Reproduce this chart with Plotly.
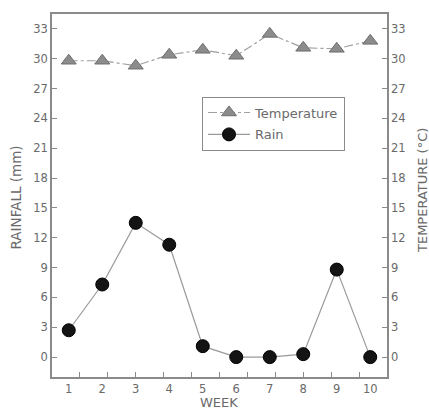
import plotly.graph_objects as go

weeks = [1, 2, 3, 4, 5, 6, 7, 8, 9, 10]
rain = [2.7, 7.3, 13.5, 11.3, 1.1, 0.0, 0.0, 0.3, 8.8, 0.0]
temperature = [29.8, 29.8, 29.3, 30.4, 30.9, 30.3, 32.5, 31.1, 31.0, 31.8]
y_ticks = [0, 3, 6, 9, 12, 15, 18, 21, 24, 27, 30, 33]

FONT = "DejaVu Sans, Arial, sans-serif"
AX = "#8a8a8a"
TXT = "#6a6a6a"

W, H = 429, 410
L, R, T, B = 52, 42, 12, 33
PW, PH = W - L - R, H - T - B


def px(xp):
    return (xp - L) / PW


def py(yp):
    return (H - B - yp) / PH


fig = go.Figure()
fig.add_trace(go.Scatter(
    x=weeks, y=temperature, name="Temperature", mode="lines+markers",
    legendgroup="t",
    line=dict(color="#a0a0a0", width=1.2, dash="dashdot"),
    marker=dict(symbol="triangle-up", size=13, color="#8c8c8c",
                line=dict(color="#6e6e6e", width=1)),
    yaxis="y2"))
fig.add_trace(go.Scatter(
    x=weeks, y=rain, name="Rain", mode="lines+markers",
    legendgroup="r",
    line=dict(color="#9a9a9a", width=1.2),
    marker=dict(symbol="circle", size=13, color="#141414",
                line=dict(color="#000000", width=1))))
# dummy trace carrying the bottom tick-mark axis
fig.add_trace(go.Scatter(x=[None], y=[None], xaxis="x2", showlegend=False,
                         hoverinfo="skip"))

fig.update_layout(
    width=W, height=H,
    margin=dict(l=L, r=R, t=T, b=B),
    paper_bgcolor="white", plot_bgcolor="white",
    font=dict(family=FONT, size=11.5, color=TXT),
    showlegend=True,
    legend=dict(x=px(202), y=py(95), xanchor="left", yanchor="top",
                bgcolor="white", bordercolor=AX, borderwidth=1,
                font=dict(size=13, color=TXT), tracegroupgap=2,
                itemwidth=42),
    xaxis=dict(range=[0.5, 10.5], tickvals=weeks, ticks="", showgrid=False,
               zeroline=False, showline=True, linecolor=AX, linewidth=1.5,
               mirror=True, tickfont=dict(size=11.5, color=TXT)),
    xaxis2=dict(range=[0, 12], dtick=1, overlaying="x", side="bottom",
                anchor="y", ticks="inside", ticklen=5, tickcolor=AX,
                tickwidth=1, showticklabels=False, showgrid=False,
                zeroline=False, showline=False),
    yaxis=dict(range=[-2, 34.5], tickvals=y_ticks, ticks="inside", ticklen=5,
               tickcolor=AX, showgrid=False, zeroline=False, showline=True,
               linecolor=AX, linewidth=1.5,
               tickfont=dict(size=11.5, color=TXT)),
    yaxis2=dict(range=[-2, 34.5], tickvals=y_ticks, ticks="inside",
                ticklen=5, tickcolor=AX, overlaying="y", side="right",
                showgrid=False, zeroline=False, showline=True, linecolor=AX,
                linewidth=1.5, tickfont=dict(size=11.5, color=TXT)),
)

fig.add_annotation(text="RAINFALL (mm)", x=px(15.5), y=py(197),
                   xref="paper", yref="paper", showarrow=False,
                   textangle=-90, xanchor="center", yanchor="middle",
                   font=dict(size=13.5, color=TXT))
fig.add_annotation(text="TEMPERATURE (°C)", x=px(422), y=py(190),
                   xref="paper", yref="paper", showarrow=False,
                   textangle=-90, xanchor="center", yanchor="middle",
                   font=dict(size=13, color=TXT))
fig.add_annotation(text="WEEK", x=px(219), y=py(403), xref="paper",
                   yref="paper", showarrow=False, xanchor="center",
                   yanchor="middle", font=dict(size=13, color=TXT))

fig.write_html("out.html", config={"displayModeBar": False},
               post_script="document.body.style.margin='0';")
